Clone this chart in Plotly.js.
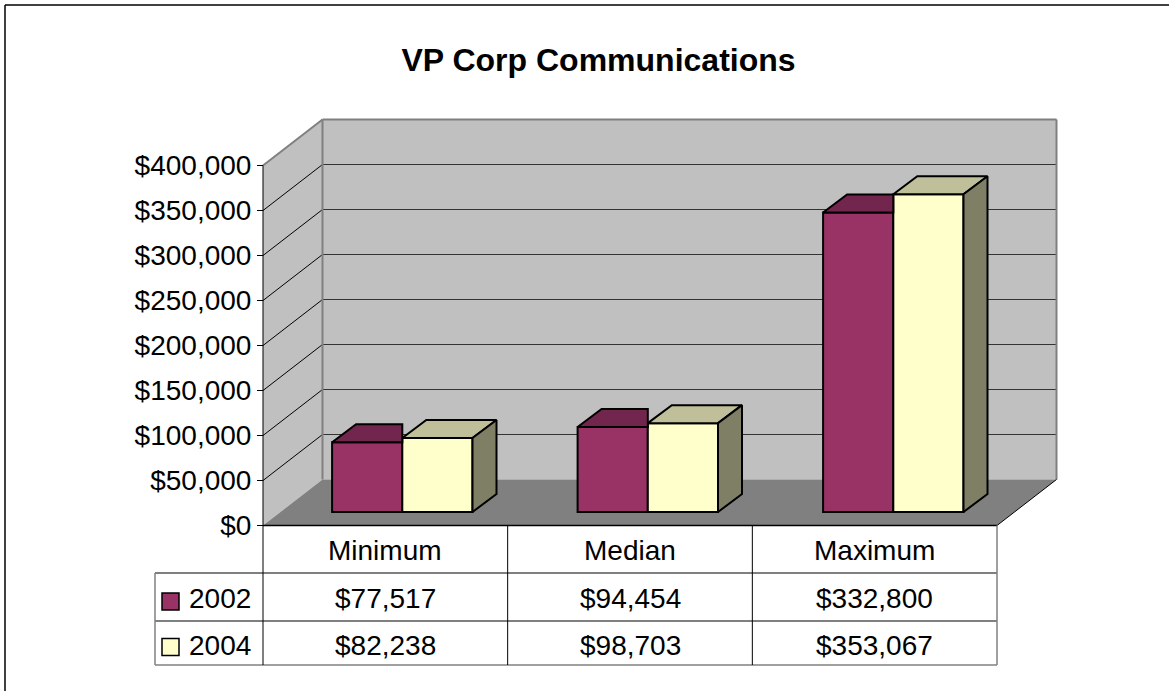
<!DOCTYPE html>
<html><head><meta charset="utf-8">
<script src="https://cdn.plot.ly/plotly-3.0.1.min.js"></script>
<style>html,body{margin:0;padding:0;background:#fff}#c{width:1169px;height:691px}</style>
</head><body><div id="c"></div>
<script>
const categories = ['Minimum', 'Median', 'Maximum'];
const seriesNames = ['2002', '2004'];
const values2002 = [77517, 94454, 332800];
const values2004 = [82238, 98703, 353067];
const yTicks = [0, 50000, 100000, 150000, 200000, 250000, 300000, 350000, 400000];

const colors2002 = {front: '#993366', top: '#73264D'};
const colors2004 = {front: '#FFFFCC', top: '#BFBF99', side: '#7F7F66'};

const W = 1169, H = 691;
const px0 = 263, pxCat = 244.67, py0 = 525.5, pyUnit = 360 / 400000;
const depthX = 59.5 / pxCat, depthY = 46 / pyUnit;
const barW = 70.2 / pxCat, barFirst = 139.3 / pxCat, barPitch = 245.5 / pxCat, barOffY = 13.5 / pyUnit;
const barDX = 24 / pxCat, barDY = 18 / pyUnit;

const xRange = [-px0 / pxCat, (W - px0) / pxCat];
const yRange = [-(H - py0) / pyUnit, py0 / pyUnit];
const px = v => v / W, py = v => 1 - v / H;

const FONT = 'Liberation Sans, Arial, sans-serif';
const path = pts => 'M' + pts.map(p => p[0] + ' ' + p[1]).join(' L') + ' Z';
const poly = (pts, fill) => ({type: 'scatter', mode: 'lines', x: pts.concat([pts[0]]).map(p => p[0]), y: pts.concat([pts[0]]).map(p => p[1]),
  fill: 'toself', fillcolor: fill, line: {color: '#000', width: 2}, hoverinfo: 'skip', showlegend: false});

const catLeft = i => barFirst - barW + i * barPitch;
const traces = [];
traces.push({type: 'bar', name: seriesNames[0], x: categories.map((c, i) => catLeft(i) + barW / 2), y: values2002, width: barW,
  base: categories.map(() => barOffY), marker: {color: colors2002.front, line: {color: '#000', width: 2}}, hoverinfo: 'skip', showlegend: false});
traces.push({type: 'bar', name: seriesNames[1], x: categories.map((c, i) => catLeft(i) + barW * 1.5), y: values2004, width: barW,
  base: categories.map(() => barOffY), marker: {color: colors2004.front, line: {color: '#000', width: 2}}, hoverinfo: 'skip', showlegend: false});
categories.forEach((c, i) => {
  const x0 = catLeft(i), x1 = x0 + barW, x2 = x1 + barW;
  const a = values2002[i] + barOffY, b = values2004[i] + barOffY;
  traces.push(poly([[x0, a], [x1, a], [x1, a + barDY], [x0 + barDX, a + barDY]], colors2002.top));
  traces.push(poly([[x1, b], [x2, b], [x2 + barDX, b + barDY], [x1 + barDX, b + barDY]], colors2004.top));
  traces.push(poly([[x2, barOffY], [x2 + barDX, barOffY + barDY], [x2 + barDX, b + barDY], [x2, b]], colors2004.side));
});

const shapes = [];
const GREY = '#808080';
shapes.push({type: 'path', layer: 'below', xref: 'x', yref: 'y', path: path([[0, 0], [depthX, depthY], [depthX, 400000 + depthY], [0, 400000]]), fillcolor: '#C0C0C0', line: {width: 0}});
shapes.push({type: 'path', layer: 'below', xref: 'x', yref: 'y', path: path([[depthX, depthY], [3 + depthX, depthY], [3 + depthX, 400000 + depthY], [depthX, 400000 + depthY]]), fillcolor: '#C0C0C0', line: {width: 0}});
shapes.push({type: 'path', layer: 'below', xref: 'x', yref: 'y', path: path([[0, 0], [3, 0], [3 + depthX, depthY], [depthX, depthY]]), fillcolor: '#808080', line: {width: 0}});
yTicks.filter(v => v > 0 && v < 400000).forEach(v => {
  shapes.push({type: 'line', layer: 'below', xref: 'x', yref: 'y', x0: 0, y0: v, x1: depthX, y1: v + depthY, line: {color: '#000', width: 1}});
  shapes.push({type: 'line', layer: 'below', xref: 'x', yref: 'y', x0: depthX, y0: v + depthY, x1: 3 + depthX, y1: v + depthY, line: {color: '#333', width: 1.2}});
});
[[0, 400000, depthX, 400000 + depthY], [depthX, depthY, depthX, 400000 + depthY], [depthX, 400000 + depthY, 3 + depthX, 400000 + depthY], [3 + depthX, depthY, 3 + depthX, 400000 + depthY]].forEach(s => {
  shapes.push({type: 'line', layer: 'below', xref: 'x', yref: 'y', x0: s[0], y0: s[1], x1: s[2], y1: s[3], line: {color: GREY, width: 2}});
});
shapes.push({type: 'line', layer: 'below', xref: 'x', yref: 'y', x0: 3, y0: 0, x1: 3 + depthX, y1: depthY, line: {color: '#000', width: 1}});
shapes.push({type: 'line', xref: 'x', yref: 'y', x0: 0, y0: 0, x1: 0, y1: 400000, line: {color: '#000', width: 1}});

const tableLeft = 155;
const pl = (x0, y0, x1, y1, color, width) => shapes.push({type: 'line', xref: 'paper', yref: 'paper', x0: px(x0), y0: py(y0), x1: px(x1), y1: py(y1), line: {color, width}});
pl(px0, 525.5, 997, 525.5, '#000', 1.5);
pl(tableLeft, 573, 997, 573, '#000', 1);
pl(tableLeft, 621, 997, 621, '#000', 1);
pl(tableLeft, 665, 997, 665, GREY, 1.5);
pl(tableLeft, 573, tableLeft, 665, GREY, 1.5);
pl(997, 525.5, 997, 665, GREY, 1.5);
[px0, px0 + pxCat, px0 + 2 * pxCat].forEach(x => pl(x, 525.5, x, 665, '#000', 1));
pl(5, 5, W, 5, '#000', 1.5);
pl(5, 5, 5, H, '#000', 1.5);
[[colors2002.front, 593], [colors2004.front, 638.5]].forEach(k => {
  shapes.push({type: 'rect', xref: 'paper', yref: 'paper', x0: px(162), x1: px(179), y0: py(k[1]), y1: py(k[1] + 17), fillcolor: k[0], line: {color: '#000', width: 1.5}});
});

const TXT = 28;
const money = v => '$' + v.toLocaleString('en-US');
const ann = [];
const note = (text, xref, x, y) => ann.push({text, xref, yref: 'paper', x, y: py(y), xanchor: 'center', yanchor: 'middle', showarrow: false, font: {family: FONT, size: TXT, color: '#000'}});
categories.forEach((c, i) => {
  note(c, 'x', i + 0.5, 550);
  note(money(values2002[i]), 'x', i + 0.5, 598);
  note(money(values2004[i]), 'x', i + 0.5, 645.5);
});
note(seriesNames[0], 'paper', px(220), 598);
note(seriesNames[1], 'paper', px(220), 645.5);

const layout = {
  width: W, height: H, margin: {l: 0, r: 0, t: 0, b: 0}, paper_bgcolor: '#fff', plot_bgcolor: '#fff',
  barmode: 'overlay', showlegend: false,
  title: {text: 'VP Corp Communications', x: 598.5 / W, xanchor: 'center', y: py(60), yanchor: 'middle', yref: 'paper', font: {family: FONT, size: 32, color: '#000', weight: 700}},
  xaxis: {range: xRange, visible: false, fixedrange: true},
  yaxis: {range: yRange, anchor: 'free', position: px0 / W, tickmode: 'array', tickvals: yTicks, ticktext: yTicks.map(money),
    ticks: 'outside', ticklen: 6, tickcolor: '#000', tickwidth: 1, showgrid: false, zeroline: false, showline: false,
    tickfont: {family: FONT, size: TXT, color: '#000'}, fixedrange: true},
  shapes, annotations: ann
};
Plotly.newPlot('c', traces, layout, {displayModeBar: false, responsive: false});
</script></body></html>
